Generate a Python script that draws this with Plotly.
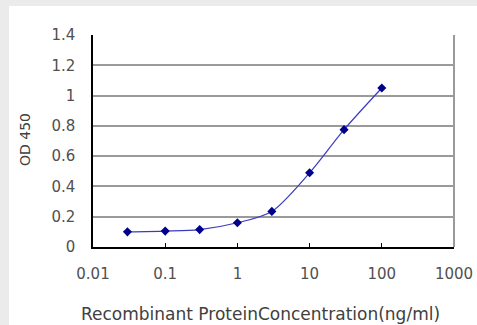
import plotly.graph_objects as go

concentration = [0.03, 0.1, 0.3, 1, 3, 10, 30, 100]
od450 = [0.10, 0.105, 0.115, 0.16, 0.235, 0.49, 0.775, 1.05]

x_tickvals = [0.01, 0.1, 1, 10, 100, 1000]
x_ticktext = ["0.01", "0.1", "1", "10", "100", "1000"]
y_tickvals = [0, 0.2, 0.4, 0.6, 0.8, 1, 1.2, 1.4]
y_ticktext = ["0", "0.2", "0.4", "0.6", "0.8", "1", "1.2", "1.4"]

W, H = 477, 325
L, R, T, B = 93, 23, 35, 78
pw, ph = W - L - R, H - T - B

def px_x(p):
    return (p - L) / pw

def px_y(p):
    return (H - B - p) / ph

fig = go.Figure()
fig.add_trace(go.Scatter(
    x=concentration, y=od450, mode="lines+markers",
    line=dict(color="#3b3bc0", width=1.2, shape="spline", smoothing=0.8),
    marker=dict(symbol="diamond", size=7, color="#00008b"),
    showlegend=False,
))

tick_font = dict(family="DejaVu Sans, sans-serif", size=15, color="#505050")

fig.update_layout(
    width=W, height=H, autosize=False,
    margin=dict(l=L, r=R, t=T, b=B, pad=0, autoexpand=False),
    paper_bgcolor="#ebebeb",
    plot_bgcolor="white",
    xaxis=dict(
        type="log", range=[-2, 3], automargin=False,
        tickvals=x_tickvals, ticktext=x_ticktext,
        showgrid=False, zeroline=False,
        showline=True, linecolor="black", linewidth=1.5,
        ticks="inside", ticklen=4, tickcolor="black", tickwidth=1,
        tickfont=tick_font, ticklabelstandoff=12,
    ),
    yaxis=dict(
        range=[0, 1.4], automargin=False,
        tickvals=y_tickvals, ticktext=y_ticktext,
        showgrid=True, gridcolor="#9a9a9a", gridwidth=2,
        zeroline=False,
        showline=True, linecolor="black", linewidth=1.5,
        ticks="", tickfont=tick_font, ticklabelstandoff=13,
    ),
    shapes=[
        dict(type="rect", xref="paper", yref="paper",
             x0=px_x(9), x1=px_x(W + 40), y0=px_y(H + 20), y1=px_y(6),
             fillcolor="white", line=dict(width=0), layer="below"),
        dict(type="line", xref="paper", yref="paper",
             x0=1, x1=1, y0=0, y1=1,
             line=dict(color="#9a9a9a", width=2)),
    ],
    annotations=[
        dict(text="Recombinant ProteinConcentration(ng/ml)",
             xref="paper", yref="paper", x=px_x(260), y=px_y(314),
             xanchor="center", yanchor="middle", showarrow=False,
             font=dict(family="DejaVu Sans, sans-serif", size=17, color="#404040")),
        dict(text="OD 450",
             xref="paper", yref="paper", x=px_x(25), y=px_y(140),
             xanchor="center", yanchor="middle", showarrow=False, textangle=-90,
             font=dict(family="DejaVu Sans, sans-serif", size=14, color="#404040")),
    ],
)

fig.write_html(
    "out.html",
    config={"responsive": False, "displayModeBar": False},
    post_script=(
        "document.documentElement.style.overflow='hidden';"
        "document.body.style.margin='0';document.body.style.overflow='hidden';"
    ),
)
